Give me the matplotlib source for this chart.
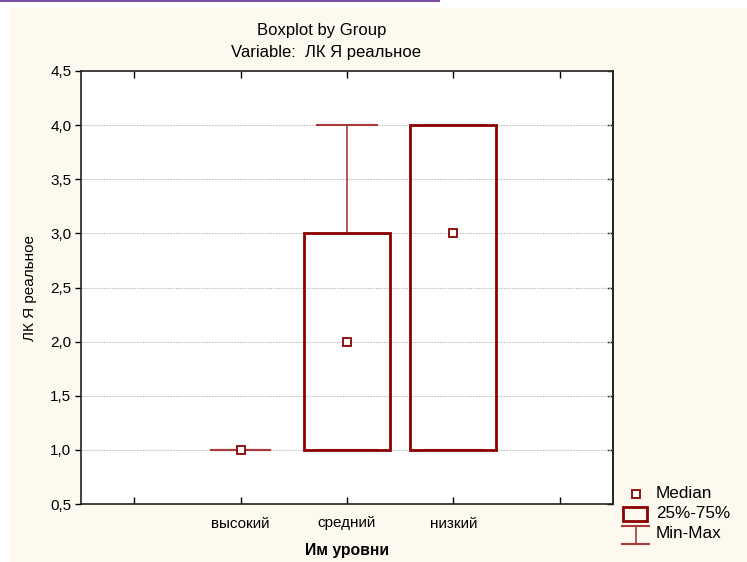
import matplotlib
matplotlib.use('Agg')
import matplotlib.pyplot as plt
from matplotlib.patches import Rectangle
from matplotlib.lines import Line2D
from matplotlib.ticker import FixedLocator, FuncFormatter

plt.rcParams['font.family'] = ['Liberation Sans', 'DejaVu Sans']

groups = ['высокий', 'средний', 'низкий']
medians = [1.0, 2.0, 3.0]
q1 = [1.0, 1.0, 1.0]
q3 = [1.0, 3.0, 4.0]
mins = [1.0, 1.0, 1.0]
maxs = [1.0, 4.0, 4.0]

box_col = '#8b0000'
whisk_col = '#a83a3a'
bg = '#fdf9ee'

W, H = 747, 562
fig = plt.figure(figsize=(W / 100, H / 100), dpi=100)
fig.patch.set_facecolor('white')

def fx(px):
    return px / W

def fy(py):
    return 1 - py / H

# window background and top strip
fig.add_artist(Rectangle((fx(10), 0), 1 - fx(10), fy(8), transform=fig.transFigure,
                         facecolor=bg, edgecolor='none', zorder=0))
fig.add_artist(Rectangle((0, fy(2)), fx(440), 2 / H, transform=fig.transFigure,
                         facecolor='#7b4fa8', edgecolor='none', zorder=0))

ax = fig.add_axes([fx(81), fy(504), fx(613) - fx(81), fy(71) - fy(504)])
ax.set_facecolor('white')

positions = [1, 2, 3]
box_w = 0.81
cap_w = 0.56
for x, med, lo, hi, mn, mx in zip(positions, medians, q1, q3, mins, maxs):
    # whiskers and caps
    ax.plot([x, x], [hi, mx], color=whisk_col, lw=1.2, zorder=2)
    ax.plot([x, x], [mn, lo], color=whisk_col, lw=1.2, zorder=2)
    ax.plot([x - cap_w / 2, x + cap_w / 2], [mx, mx], color=whisk_col, lw=1.5, zorder=2)
    ax.plot([x - cap_w / 2, x + cap_w / 2], [mn, mn], color=whisk_col, lw=1.5, zorder=2)
    if hi > lo:
        ax.add_patch(Rectangle((x - box_w / 2, lo), box_w, hi - lo, facecolor='none',
                               edgecolor=box_col, lw=2, zorder=3))
    ax.plot(x, med, marker='s', ms=6, mfc='white', mec=box_col, mew=1.3, zorder=4)

yticks = [0.5 + 0.5 * i for i in range(9)]
ax.set_xlim(-0.5, 4.5)
ax.set_ylim(0.5, 4.5)
ax.xaxis.set_major_locator(FixedLocator([0, 1, 2, 3, 4]))
ax.set_xticklabels([''] + groups + [''])
ax.yaxis.set_major_locator(FixedLocator(yticks))
ax.yaxis.set_major_formatter(FuncFormatter(lambda v, p: f'{v:.1f}'.replace('.', ',')))
ax.grid(axis='y', color='#c4c4c4', lw=0.8, linestyle=(0, (1.5, 1)), zorder=1)
ax.set_axisbelow(True)

ax.tick_params(axis='x', direction='in', top=True, length=5, width=1, pad=9,
               labelsize=11, colors='black')
ax.tick_params(axis='y', direction='out', length=4, width=1, labelsize=11, pad=3)

# inward ticks on the right edge
right = ax.secondary_yaxis('right')
right.yaxis.set_major_locator(FixedLocator(yticks))
right.tick_params(direction='in', length=4, width=1, labelright=False)
right.spines['right'].set_linewidth(1.2)
right.spines['right'].set_color('#222222')

for s in ax.spines.values():
    s.set_linewidth(1.2)
    s.set_color('#222222')

fig.text(fx(322), fy(30), 'Boxplot by Group', ha='center', va='center', fontsize=12)
fig.text(fx(326), fy(52), 'Variable:  ЛК Я реальное', ha='center', va='center', fontsize=12)
fig.text(fx(347), fy(551), 'Им уровни', ha='center', va='center', fontsize=11.3,
         fontweight='bold')
fig.text(fx(30), fy(288), 'ЛК Я реальное', ha='center', va='center', rotation=90,
         fontsize=11)

# legend
fig.add_artist(Line2D([fx(636)], [fy(494)], marker='s', ms=6, mfc='white', mec=box_col,
                      mew=1.3, transform=fig.transFigure))
fig.add_artist(Rectangle((fx(623), fy(521)), fx(647) - fx(623), fy(507) - fy(521),
                         transform=fig.transFigure, facecolor='none', edgecolor=box_col, lw=2))
fig.add_artist(Line2D([fx(622), fx(649)], [fy(526), fy(526)], color=whisk_col, lw=1.5,
                      transform=fig.transFigure))
fig.add_artist(Line2D([fx(635.5), fx(635.5)], [fy(526), fy(544)], color=whisk_col, lw=1.2,
                      transform=fig.transFigure))
fig.add_artist(Line2D([fx(622), fx(649)], [fy(544), fy(544)], color=whisk_col, lw=1.5,
                      transform=fig.transFigure))
for py, label in [(494, 'Median'), (514, '25%-75%'), (534, 'Min-Max')]:
    fig.text(fx(656), fy(py), label, ha='left', va='center', fontsize=12.3)

fig.savefig('out.png', dpi=100, facecolor=fig.get_facecolor())
